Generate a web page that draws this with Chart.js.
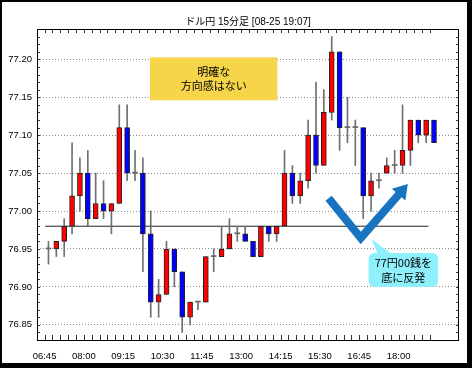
<!DOCTYPE html>
<html>
<head>
<meta charset="utf-8">
<script src="https://cdn.jsdelivr.net/npm/chart.js@4.4.1/dist/chart.umd.min.js"></script>
<style>
    html, body { margin: 0; padding: 0; background: #fff; }
    canvas { display: block; }
</style>
</head>
<body>
<canvas id="chart" width="472" height="368"></canvas>
<script>
// 15 minute bars, 06:45 - 19:00
const times = ['06:45', '07:00', '07:15', '07:30', '07:45', '08:00', '08:15', '08:30', '08:45', '09:00',
               '09:15', '09:30', '09:45', '10:00', '10:15', '10:30', '10:45', '11:00', '11:15', '11:30',
               '11:45', '12:00', '12:15', '12:30', '12:45', '13:00', '13:15', '13:30', '13:45', '14:00',
               '14:15', '14:30', '14:45', '15:00', '15:15', '15:30', '15:45', '16:00', '16:15', '16:30',
               '16:45', '17:00', '17:15', '17:30', '17:45', '18:00', '18:15', '18:30', '18:45', '19:00'];
const opens  = [76.95, 76.95, 76.96, 76.98, 77.02, 77.05, 76.99, 77.01, 77.00, 77.01,
                77.11, 77.05, 77.05, 76.97, 76.88, 76.89, 76.95, 76.92, 76.86, 76.88,
                76.88, 76.94, 76.94, 76.95, 76.97, 76.97, 76.96, 76.94, 76.98, 76.97,
                76.98, 77.05, 77.02, 77.04, 77.10, 77.06, 77.13, 77.21, 77.11, 77.11,
                77.11, 77.02, 77.04, 77.05, 77.06, 77.06, 77.08, 77.12, 77.10, 77.12];
const highs  = [76.96, 76.96, 76.99, 77.09, 77.07, 77.08, 77.05, 77.04, 77.01, 77.14,
                77.14, 77.08, 77.07, 77.00, 76.91, 76.96, 76.95, 76.92, 76.88, 76.88,
                76.94, 76.95, 76.98, 76.99, 76.98, 76.98, 76.96, 76.98, 76.98, 76.98,
                77.08, 77.06, 77.05, 77.12, 77.17, 77.16, 77.23, 77.21, 77.15, 77.12,
                77.11, 77.05, 77.05, 77.07, 77.08, 77.14, 77.12, 77.12, 77.12, 77.12];
const lows   = [76.93, 76.94, 76.94, 76.97, 77.00, 76.98, 76.99, 76.99, 76.97, 77.01,
                77.04, 77.04, 76.92, 76.86, 76.86, 76.89, 76.90, 76.84, 76.85, 76.87,
                76.88, 76.92, 76.94, 76.95, 76.96, 76.96, 76.94, 76.94, 76.96, 76.96,
                76.98, 77.01, 77.01, 77.03, 77.05, 77.06, 77.12, 77.08, 77.09, 77.06,
                76.99, 77.00, 77.03, 77.05, 77.05, 77.05, 77.06, 77.09, 77.09, 77.09];
const closes = [76.95, 76.96, 76.98, 77.02, 77.05, 76.99, 77.01, 77.00, 77.01, 77.11,
                77.05, 77.05, 76.97, 76.88, 76.89, 76.95, 76.92, 76.86, 76.88, 76.88,
                76.94, 76.94, 76.95, 76.97, 76.97, 76.96, 76.94, 76.98, 76.97, 76.98,
                77.05, 77.02, 77.04, 77.10, 77.06, 77.13, 77.21, 77.11, 77.11, 77.11,
                77.02, 77.04, 77.04, 77.06, 77.06, 77.08, 77.12, 77.10, 77.12, 77.09];

const yTicks = [76.85, 76.90, 76.95, 77.00, 77.05, 77.10, 77.15, 77.20];
const supportLevel = 76.98;   // 77円手前の水平線
const supportRange = [-0.4, 48.3];

const titleText = 'ドル円 15分足 [08-25 19:07]';
const noteText = ['明確な', '方向感はない'];
const calloutText = ['77円00銭を', '底に反発'];

const cjk = "'Noto Sans CJK JP', sans-serif";
const latin = "'Liberation Sans', 'Noto Sans CJK JP', sans-serif";

const wicks = times.map((t, i) => ({ x: i, y: [lows[i], highs[i]] }));
const bodies = times.map((t, i) => ({ x: i, y: [opens[i], closes[i]] }));
const bodyColors = times.map((t, i) => closes[i] > opens[i] ? '#ff0000' : closes[i] < opens[i] ? '#0000ff' : '#666666');
const bodyBorders = times.map((t, i) => closes[i] === opens[i] ? 0 : 1);

// annotations (x in bar index, y in price)
const noteBox = { x0: 12.9, x1: 29.1, y0: 77.2026, y1: 77.146 };
const checkMark = [[35.6, 77.017], [39.7, 76.9645], [45.67, 77.0355]];
const calloutBox = { x0: 40.68, x1: 49.53, y0: 76.9447, y1: 76.90 };
const calloutTail = [[41.85, 76.9447], [43.6, 76.9447], [41.06, 76.9632]];

const decorations = {
    id: 'decorations',
    beforeDraw(chart) {
        const ctx = chart.ctx;
        ctx.save();
        ctx.fillStyle = '#fff';
        ctx.fillRect(0, 0, chart.width, chart.height);
        ctx.restore();
    },
    afterDatasetsDraw(chart) {
        const ctx = chart.ctx;
        const xs = chart.scales.x, ys = chart.scales.y;
        const px = p => [xs.getPixelForValue(p[0]), ys.getPixelForValue(p[1])];
        ctx.save();

        // yellow note
        let l = xs.getPixelForValue(noteBox.x0), r = xs.getPixelForValue(noteBox.x1);
        let t = ys.getPixelForValue(noteBox.y0), b = ys.getPixelForValue(noteBox.y1);
        ctx.fillStyle = '#f6d54b';
        ctx.fillRect(l, t, r - l, b - t);
        ctx.fillStyle = '#000';
        ctx.font = '11px ' + cjk;
        ctx.textAlign = 'center';
        ctx.textBaseline = 'middle';
        ctx.fillText(noteText[0], (l + r) / 2, (t + b) / 2 - 7);
        ctx.fillText(noteText[1], (l + r) / 2, (t + b) / 2 + 7);

        // blue check arrow
        const pts = checkMark.map(px);
        const tip = pts[2], mid = pts[1];
        const dx = tip[0] - mid[0], dy = tip[1] - mid[1];
        const len = Math.hypot(dx, dy), ux = dx / len, uy = dy / len;
        const headLen = 14, headW = 9;
        const base = [tip[0] - ux * headLen, tip[1] - uy * headLen];
        ctx.strokeStyle = '#1874c1';
        ctx.fillStyle = '#1874c1';
        ctx.lineWidth = 8;
        ctx.lineJoin = 'miter';
        ctx.beginPath();
        ctx.moveTo(pts[0][0], pts[0][1]);
        ctx.lineTo(mid[0], mid[1]);
        ctx.lineTo(base[0] + ux, base[1] + uy);
        ctx.stroke();
        ctx.beginPath();
        ctx.moveTo(tip[0], tip[1]);
        ctx.lineTo(base[0] - uy * headW, base[1] + ux * headW);
        ctx.lineTo(base[0] + uy * headW, base[1] - ux * headW);
        ctx.closePath();
        ctx.fill();

        // cyan callout
        l = xs.getPixelForValue(calloutBox.x0); r = xs.getPixelForValue(calloutBox.x1);
        t = ys.getPixelForValue(calloutBox.y0); b = ys.getPixelForValue(calloutBox.y1);
        ctx.fillStyle = '#8ef0fc';
        ctx.beginPath();
        ctx.roundRect(l, t, r - l, b - t, 6);
        ctx.fill();
        const tail = calloutTail.map(px);
        ctx.beginPath();
        ctx.moveTo(tail[0][0], tail[0][1] + 1);
        ctx.lineTo(tail[2][0], tail[2][1]);
        ctx.lineTo(tail[1][0], tail[1][1] + 1);
        ctx.closePath();
        ctx.fill();
        ctx.fillStyle = '#000';
        ctx.fillText(calloutText[0], (l + r) / 2, (t + b) / 2 - 7.5);
        ctx.fillText(calloutText[1], (l + r) / 2, (t + b) / 2 + 7.5);
        ctx.restore();
    },
    afterDraw(chart) {
        const ctx = chart.ctx;
        const { left, right, top, bottom } = chart.chartArea;
        const xs = chart.scales.x, ys = chart.scales.y;
        ctx.save();
        // title, centred over the plot
        ctx.fillStyle = '#000';
        ctx.font = '10px ' + latin;
        ctx.textAlign = 'center';
        ctx.textBaseline = 'middle';
        ctx.fillText(titleText, (left + right) / 2, 22);

        ctx.strokeStyle = '#333';
        ctx.lineWidth = 1;
        ctx.beginPath();
        // inner tick marks top / bottom
        xs.ticks.forEach(tk => {
            const x = Math.round(xs.getPixelForValue(tk.value)) + 0.5;
            ctx.moveTo(x, top); ctx.lineTo(x, top + 4);
            ctx.moveTo(x, bottom); ctx.lineTo(x, bottom - 5);
        });
        // minor ticks left / right every 0.01
        for (let v = Math.ceil(ys.min * 100); v <= Math.floor(ys.max * 100); v++) {
            const y = Math.round(ys.getPixelForValue(v / 100)) + 0.5;
            ctx.moveTo(left, y); ctx.lineTo(left + 3, y);
            ctx.moveTo(right, y); ctx.lineTo(right - 3, y);
        }
        ctx.stroke();
        // plot frame
        ctx.strokeStyle = '#000';
        ctx.strokeRect(Math.round(left) + 0.5, Math.round(top) + 0.5, Math.round(right - left) - 1, Math.round(bottom - top));
        // outer frame
        ctx.fillStyle = '#000';
        ctx.fillRect(0, 0, chart.width, 2);
        ctx.fillRect(0, 0, 2, chart.height);
        ctx.fillRect(chart.width - 5, 0, 5, chart.height);
        ctx.fillRect(0, chart.height - 5, chart.width, 5);
        ctx.restore();
    }
};

const ctx = document.getElementById('chart').getContext('2d');
const chart = new Chart(ctx, {
    type: 'bar',
    data: {
        datasets: [
            {
                type: 'line',
                data: [{ x: supportRange[0], y: supportLevel }, { x: supportRange[1], y: supportLevel }],
                borderColor: '#222',
                borderWidth: 1,
                pointRadius: 0,
                order: 2
            },
            {
                data: wicks,
                backgroundColor: '#707070',
                barThickness: 1,
                grouped: false,
                order: 1
            },
            {
                data: bodies,
                backgroundColor: bodyColors,
                borderColor: '#222',
                borderWidth: bodyBorders,
                borderSkipped: false,
                barThickness: 5,
                minBarLength: 1,
                grouped: false,
                order: 0
            }
        ]
    },
    options: {
        responsive: false,
        animation: false,
        layout: { padding: { left: 0, right: 13, top: 29, bottom: 0 } },
        plugins: {
            legend: { display: false },
            tooltip: { enabled: false },
            title: { display: false }
        },
        scales: {
            x: {
                type: 'linear',
                min: -0.92,
                max: 51.64,
                afterBuildTicks: scale => {
                    scale.ticks = times.map((t, i) => ({ value: i - 0.5 }));
                },
                afterFit: scale => { scale.height = 28; },
                grid: { display: false },
                border: { display: false },
                ticks: {
                    autoSkip: false,
                    maxRotation: 0,
                    minRotation: 0,
                    padding: 3,
                    color: '#000',
                    font: { family: latin, size: 9.5 },
                    callback: value => {
                        const i = Math.round(value + 0.5);
                        return i % 5 === 0 ? times[i] : '';
                    }
                }
            },
            y: {
                min: 76.83,
                max: 77.24,
                afterBuildTicks: scale => {
                    scale.ticks = yTicks.map(v => ({ value: v }));
                },
                afterFit: scale => { scale.width = 37; },
                grid: { color: '#8c8c8c', drawTicks: false },
                border: { display: false, dash: [1, 2] },
                ticks: {
                    padding: 5,
                    color: '#000',
                    font: { family: latin, size: 9.5 },
                    callback: value => value.toFixed(2)
                }
            }
        }
    },
    plugins: [decorations]
});
</script>
</body>
</html>
